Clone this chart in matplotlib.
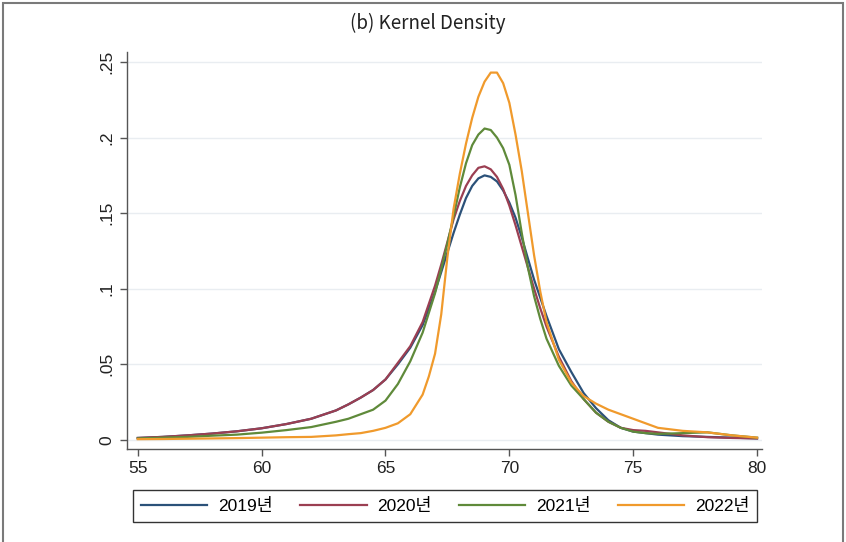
import matplotlib.pyplot as plt
from matplotlib.patches import Rectangle

plt.rcParams['font.family'] = ['Liberation Sans', 'Noto Sans CJK KR']

# evaluation grid for the kernel density estimates
x = [55, 56, 57, 58, 59, 60, 61, 62, 63, 63.5, 64, 64.5, 65, 65.5, 66, 66.5,
     66.75, 67, 67.25, 67.5, 67.75, 68, 68.25, 68.5, 68.75, 69, 69.25, 69.5,
     69.75, 70, 70.25, 70.5, 70.75, 71, 71.25, 71.5, 72, 72.5, 73, 73.5, 74,
     74.5, 75, 75.5, 76, 77, 78, 79, 80]

d2019 = [0.0013, 0.002, 0.003, 0.0042, 0.0057, 0.0077, 0.0105, 0.014, 0.0195,
         0.0235, 0.028, 0.033, 0.040, 0.050, 0.061, 0.076, 0.087, 0.098, 0.111,
         0.124, 0.137, 0.149, 0.160, 0.168, 0.173, 0.175, 0.174, 0.171, 0.165,
         0.157, 0.147, 0.134, 0.120, 0.106, 0.094, 0.082, 0.060, 0.045, 0.031,
         0.021, 0.013, 0.008, 0.0055, 0.0045, 0.0035, 0.0025, 0.002, 0.0015,
         0.001]

d2020 = [0.0013, 0.002, 0.003, 0.0042, 0.0057, 0.0077, 0.0105, 0.014, 0.0195,
         0.0235, 0.028, 0.033, 0.040, 0.051, 0.062, 0.078, 0.090, 0.102, 0.116,
         0.131, 0.146, 0.158, 0.168, 0.175, 0.180, 0.181, 0.179, 0.174, 0.166,
         0.155, 0.142, 0.128, 0.114, 0.100, 0.087, 0.075, 0.055, 0.039, 0.027,
         0.018, 0.012, 0.008, 0.0065, 0.006, 0.005, 0.003, 0.0018, 0.0013,
         0.001]

d2021 = [0.001, 0.0015, 0.002, 0.0028, 0.0035, 0.0048, 0.0065, 0.0085, 0.012,
         0.014, 0.017, 0.020, 0.026, 0.037, 0.052, 0.071, 0.084, 0.097, 0.113,
         0.130, 0.148, 0.167, 0.183, 0.195, 0.202, 0.206, 0.205, 0.200, 0.193,
         0.182, 0.162, 0.137, 0.114, 0.095, 0.080, 0.067, 0.049, 0.036, 0.027,
         0.018, 0.012, 0.008, 0.0055, 0.0045, 0.004, 0.0045, 0.005, 0.003,
         0.0015]

d2022 = [0.0005, 0.0006, 0.0008, 0.001, 0.0012, 0.0015, 0.0018, 0.002, 0.003,
         0.0038, 0.0045, 0.006, 0.008, 0.011, 0.017, 0.030, 0.042, 0.057,
         0.083, 0.121, 0.153, 0.176, 0.196, 0.213, 0.227, 0.237, 0.243, 0.243,
         0.236, 0.223, 0.202, 0.178, 0.150, 0.122, 0.098, 0.078, 0.053, 0.038,
         0.029, 0.024, 0.020, 0.017, 0.014, 0.011, 0.008, 0.006, 0.005, 0.003,
         0.0015]

labels = ['2019년', '2020년', '2021년', '2022년']
colors = ['#2b5179', '#9b3f52', '#5f8a3a', '#f09a2c']
yticks = [0, 0.05, 0.1, 0.15, 0.2, 0.25]
ytick_labels = ['0', '.05', '.1', '.15', '.2', '.25']
xticks = [55, 60, 65, 70, 75, 80]

fig = plt.figure(figsize=(8.46, 5.42), dpi=100)
ax = fig.add_axes([0.150, 0.1716, 0.7507, 0.7324])

for ys, lab, c in zip([d2019, d2020, d2021, d2022], labels, colors):
    ax.plot(x, ys, color=c, lw=1.6, label=lab)

ax.set_xlim(54.56, 80.2)
ax.set_ylim(-0.006, 0.2566)
ax.set_yticks(yticks)
ax.set_yticklabels(ytick_labels, rotation=90, va='center')
ax.set_xticks(xticks)
for yv in yticks:
    ax.axhline(yv, color='#e9edf1', lw=1.0, zorder=0)

for s in ['top', 'right']:
    ax.spines[s].set_visible(False)
for s in ['left', 'bottom']:
    ax.spines[s].set_color('#555555')
    ax.spines[s].set_linewidth(1.0)
ax.tick_params(axis='both', direction='out', length=5, width=1.0,
               color='#555555', labelsize=12.5, labelcolor='#222222', pad=4)

fig.text(0.506, 0.956, '(b) Kernel Density', ha='center', va='center',
         fontsize=13.5, family=['Noto Sans CJK KR', 'DejaVu Sans'],
         fontweight='light', color='#222222')

leg = fig.legend(loc='lower left', bbox_to_anchor=(0.157, 0.037, 0.738, 0.061),
                 mode='expand', ncol=4, fontsize=12.5, handlelength=3.85,
                 handletextpad=0.6, borderaxespad=0, borderpad=0.45,
                 fancybox=False, framealpha=1)
leg.get_frame().set_edgecolor('#333333')
leg.get_frame().set_linewidth(1.0)

# outer frame round the whole graph
fig.add_artist(Rectangle((0.004, -0.01), 0.992, 1.005, transform=fig.transFigure,
                         fill=False, edgecolor='#7a7a7a', lw=1.5))

fig.savefig('out.png', dpi=100)
